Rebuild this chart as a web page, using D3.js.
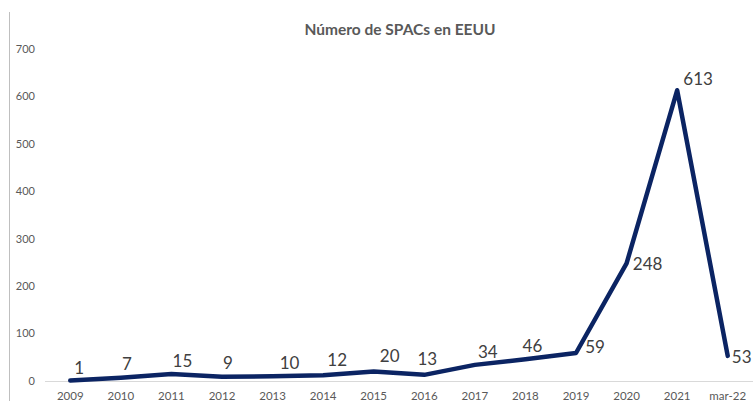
<!DOCTYPE html>
<html><head><meta charset="utf-8">
<script src="https://cdn.jsdelivr.net/npm/d3@7"></script>
<style>
html,body{margin:0;padding:0;background:#fff;}
svg{display:block;}
</style>
</head><body>
<script>
const title = "Número de SPACs en EEUU";
const categories = ["2009","2010","2011","2012","2013","2014","2015","2016","2017","2018","2019","2020","2021","mar-22"];
const spacs = [1,7,15,9,10,12,20,13,34,46,59,248,613,53];
const yTicks = [0,100,200,300,400,500,600,700];
// label nudges (dx, dy) relative to each point, as placed in the original
const labelDx = [9,6,11,6,17,14,16,3,13,7,19,21,21,14];
const labelDy = [-12,-14,-13,-14,-13,-15,-15,-16,-13,-13,-6,1,-11,1];

const W = 753, H = 401;
const svg = d3.select("body").append("svg").attr("width", W).attr("height", H);

const x = d3.scalePoint().domain(categories).range([45, 753]).padding(0.5);
const y = d3.scaleLinear().domain([0, 700]).range([381, 49]);

// left border line
svg.append("line").attr("x1", 9.5).attr("x2", 9.5).attr("y1", 12).attr("y2", H)
  .attr("stroke", "#bfbfbf").attr("stroke-width", 1);

// title
svg.append("text").attr("x", 400).attr("y", 35).attr("text-anchor", "middle")
  .attr("font-family", "Lato, 'Open Sans', sans-serif").attr("font-weight", 700)
  .attr("font-size", 15.5).attr("fill", "#595959").text(title);

// y axis labels
svg.append("g").selectAll("text").data(yTicks).join("text")
  .attr("x", 35).attr("y", d => y(d)).attr("dy", "0.35em").attr("text-anchor", "end")
  .attr("font-family", "Lato, 'Open Sans', sans-serif").attr("font-size", 11)
  .attr("fill", "#595959").text(d => d);

// baseline
svg.append("line").attr("x1", 45).attr("x2", W).attr("y1", y(0) + 0.5).attr("y2", y(0) + 0.5)
  .attr("stroke", "#d9d9d9").attr("stroke-width", 1);

// x axis labels
svg.append("g").selectAll("text").data(categories).join("text")
  .attr("x", d => x(d)).attr("y", 395.5).attr("dy", "0.35em").attr("text-anchor", "middle")
  .attr("font-family", "Lato, 'Open Sans', sans-serif").attr("font-size", 11.5)
  .attr("fill", "#595959").text(d => d);

// line
const line = d3.line().x((d, i) => x(categories[i])).y(d => y(d));
svg.append("path").datum(spacs).attr("d", line)
  .attr("fill", "none").attr("stroke", "#0b2463").attr("stroke-width", 4.5)
  .attr("stroke-linejoin", "round").attr("stroke-linecap", "round");

// data labels
svg.append("g").selectAll("text").data(spacs).join("text")
  .attr("x", (d, i) => x(categories[i]) + labelDx[i])
  .attr("y", (d, i) => y(d) + labelDy[i])
  .attr("dy", "0.35em").attr("text-anchor", "middle")
  .attr("font-family", "Lato, 'Open Sans', sans-serif").attr("font-size", 17)
  .attr("fill", "#404040").text(d => d);
</script>
</body></html>
